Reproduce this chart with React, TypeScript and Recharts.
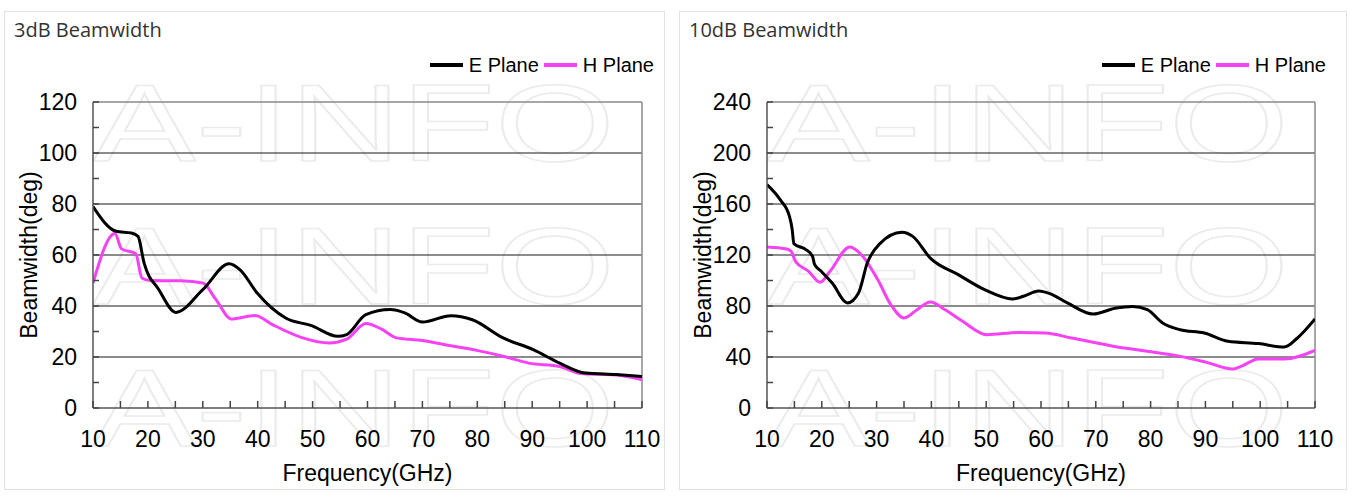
import React from 'react';
import { LineChart, Line, XAxis, YAxis, ReferenceLine, Label } from 'recharts';

// shared axis / legend data
const freqTicks = [10, 15, 20, 25, 30, 35, 40, 45, 50, 55, 60, 65, 70, 75, 80, 85, 90, 95, 100, 105, 110];
const seriesNames = ['E Plane', 'H Plane'];
const seriesColors = ['#000000', '#f442f4'];

// 3dB beamwidth
const e3Freq = [10, 14.2, 17, 18.2, 19.3, 22, 25.1, 30, 34.8, 36.8, 39.9, 45.1, 49.8, 54.6, 56.2, 59.7, 64.1, 66.8, 70, 75.2, 79.1, 84.7, 90.2, 95, 99.7, 105.3, 110];
const e3Val = [79, 69.3, 68.6, 67.3, 56.9, 46.4, 37.5, 46.4, 56.6, 54.2, 45.1, 35.3, 32.3, 28.1, 28.8, 36.6, 38.6, 37.3, 33.7, 36.2, 34.6, 27.5, 22.9, 17.6, 13.7, 13.1, 12.4];
const h3Freq = [10, 14, 15.2, 17.8, 18.9, 20.5, 26, 30, 32.4, 35.2, 39.5, 42.7, 48.2, 53, 56.2, 59.7, 62.5, 65.3, 70, 75.2, 79.9, 84.7, 89.4, 95, 98.9, 105.3, 110];
const h3Val = [49, 68.4, 62.4, 60.5, 51, 50, 49.9, 49, 42.5, 34.9, 36.3, 32.7, 27.5, 25.5, 27, 33.1, 31, 27.5, 26.5, 24.4, 22.6, 20.3, 17.6, 16.3, 13.5, 12.9, 11.1];
const yTicks3 = [0, 10, 20, 30, 40, 50, 60, 70, 80, 90, 100, 110, 120];
const grid3 = [20, 40, 60, 80, 100];

// 10dB beamwidth
const e10Freq = [10, 12.4, 14.1, 14.6, 14.9, 17.1, 18.3, 18.7, 19.9, 21.9, 24.7, 26.7, 28.3, 30.6, 34.6, 36.6, 39.8, 44.9, 49.7, 54.8, 56.8, 59.6, 61.6, 64.8, 69.5, 73.5, 76.7, 79.4, 82.2, 85.4, 89.8, 94.1, 99.7, 104.4, 106.8, 110];
const e10Val = [175.2, 163.4, 150.3, 139.9, 128.9, 124.2, 119, 112.4, 107.2, 98, 82.4, 90.2, 113.7, 128.9, 137.8, 134.6, 117.6, 104.6, 92.8, 85.5, 87.6, 91.8, 89.7, 82.4, 73.7, 78.2, 79.7, 77.1, 66.7, 61.4, 58.8, 52.3, 50.5, 47.8, 54.9, 69.8];
const h10Freq = [10, 13.6, 14.4, 15.2, 17.6, 19.7, 21.5, 25.1, 27.5, 30.2, 32.6, 35, 37.4, 39.8, 42.5, 45.7, 50.1, 56, 60.8, 65.6, 72.7, 80.6, 85.4, 90.2, 95, 96.5, 99.7, 104.4, 110];
const h10Val = [126.3, 124.7, 122.9, 115, 107.2, 98.6, 107.2, 126.3, 118.9, 100.7, 81, 70.6, 77.1, 83.1, 77.1, 68, 57.5, 59.3, 58.8, 54.9, 48.9, 43.7, 40.5, 35.8, 30.6, 32.7, 38.4, 38.4, 45.2];
const yTicks10 = [0, 20, 40, 60, 80, 100, 120, 140, 160, 180, 200, 220, 240];
const grid10 = [40, 80, 120, 160, 200];

const toPoints = (f: number[], v: number[]) => f.map((x, i) => ({ f: x, v: v[i] }));

const AX_FONT = "Arial, 'Liberation Sans', sans-serif";

const XTick = ({ x, y, payload }: any) => (
  <g>
    <line x1={x} x2={x} y1={y} y2={y - 7} stroke="#444" strokeWidth={1.5} />
    {payload.value % 10 === 0 && (
      <text x={x} y={y + 39} textAnchor="middle" fontSize={23} fill="#000" fontFamily={AX_FONT}>
        {payload.value}
      </text>
    )}
  </g>
);

const makeYTick = (labelStep: number) => ({ x, y, payload }: any) => (
  <g>
    <line x1={x} x2={x + 6} y1={y} y2={y} stroke="#444" strokeWidth={1.5} />
    {payload.value % labelStep === 0 && (
      <text x={x - 16} y={y + 8} textAnchor="end" fontSize={23} fill="#000" fontFamily={AX_FONT}>
        {payload.value}
      </text>
    )}
  </g>
);

const xTitle = ({ viewBox }: any) => (
  <text
    x={viewBox.x + viewBox.width / 2}
    y={viewBox.y + 73}
    textAnchor="middle"
    fontSize={23}
    fill="#000"
    fontFamily={AX_FONT}
  >
    Frequency(GHz)
  </text>
);

const yTitle = ({ viewBox }: any) => {
  const cx = viewBox.x + viewBox.width - 64;
  const cy = viewBox.y + viewBox.height / 2;
  return (
    <text
      x={cx}
      y={cy}
      transform={`rotate(-90 ${cx} ${cy})`}
      textAnchor="middle"
      dominantBaseline="central"
      fontSize={23}
      fill="#000"
      fontFamily={AX_FONT}
    >
      Beamwidth(deg)
    </text>
  );
};

const watermarkTops = [57, 200, 342];

interface PanelProps {
  title: string;
  left: number;
  width: number;
  plotLeft: number;
  plotWidth: number;
  legendRight: number;
  yMax: number;
  yTicks: number[];
  grid: number[];
  labelStep: number;
  eData: { f: number; v: number }[];
  hData: { f: number; v: number }[];
}

const PANEL_TOP = 11;
const PANEL_H = 479;
const CHART_H = 492;
const PLOT_TOP = 91;
const PLOT_H = 306;

function Panel(p: PanelProps) {
  const YTick = makeYTick(p.labelStep);
  return (
    <div
      style={{
        position: 'absolute',
        left: p.left,
        top: PANEL_TOP,
        width: p.width,
        height: PANEL_H,
        boxSizing: 'border-box',
        border: '1px solid #e2e2e2',
        background: '#fff',
      }}
    >
      {watermarkTops.map((t) => (
        <div
          key={t}
          style={{
            position: 'absolute',
            left: p.plotLeft - 1,
            top: t - 1,
            fontFamily: AX_FONT,
            fontSize: 110,
            lineHeight: 1,
            color: 'transparent',
            WebkitTextStroke: '1.5px #ebebeb',
            whiteSpace: 'nowrap',
            transform: 'scaleX(1.4)',
            transformOrigin: 'left top',
            pointerEvents: 'none',
          }}
        >
          A-INFO
        </div>
      ))}
      <div
        style={{
          position: 'absolute',
          left: 9,
          top: 8,
          fontFamily: "'Open Sans', 'Noto Sans', sans-serif",
          fontSize: 20,
          lineHeight: 1,
          color: '#333',
          whiteSpace: 'nowrap',
        }}
      >
        {p.title}
      </div>
      <div
        style={{
          position: 'absolute',
          right: p.legendRight,
          top: 42,
          height: 22,
          display: 'flex',
          alignItems: 'center',
          fontFamily: AX_FONT,
          fontSize: 20,
          color: '#000',
          whiteSpace: 'nowrap',
        }}
      >
        {seriesNames.map((n, i) => (
          <React.Fragment key={n}>
            <span
              style={{
                display: 'inline-block',
                width: 33,
                height: 3.5,
                background: seriesColors[i],
                marginLeft: i ? 5 : 0,
                marginRight: 6,
              }}
            />
            <span>{n}</span>
          </React.Fragment>
        ))}
      </div>
      <div style={{ position: 'absolute', left: -1, top: -1 }}>
        <LineChart
          width={p.width}
          height={CHART_H}
          margin={{ top: PLOT_TOP, right: p.width - p.plotLeft - p.plotWidth, left: 0, bottom: 0 }}
        >
          <XAxis
            type="number"
            dataKey="f"
            domain={[10, 110]}
            ticks={freqTicks}
            interval={0}
            tickSize={0}
            tickMargin={0}
            tickLine={false}
            tick={<XTick />}
            axisLine={{ stroke: '#555', strokeWidth: 1.5 }}
            height={CHART_H - PLOT_TOP - PLOT_H}
            allowDataOverflow
          >
            <Label content={xTitle} />
          </XAxis>
          <YAxis
            type="number"
            domain={[0, p.yMax]}
            ticks={p.yTicks}
            interval={0}
            tickSize={0}
            tickMargin={0}
            tickLine={false}
            tick={<YTick />}
            axisLine={{ stroke: '#555', strokeWidth: 1.5 }}
            width={p.plotLeft}
            allowDataOverflow
          >
            <Label content={yTitle} />
          </YAxis>
          {p.grid.map((g) => (
            <ReferenceLine key={g} y={g} stroke="#1a1a1a" strokeWidth={1.2} />
          ))}
          <ReferenceLine y={p.yMax} stroke="#8a8a8a" strokeWidth={1.5} />
          <ReferenceLine x={110} stroke="#8a8a8a" strokeWidth={1.5} />
          <Line
            data={p.hData}
            dataKey="v"
            name={seriesNames[1]}
            type="monotone"
            stroke={seriesColors[1]}
            strokeWidth={3}
            dot={false}
            isAnimationActive={false}
          />
          <Line
            data={p.eData}
            dataKey="v"
            name={seriesNames[0]}
            type="monotone"
            stroke={seriesColors[0]}
            strokeWidth={3}
            dot={false}
            isAnimationActive={false}
          />
        </LineChart>
      </div>
    </div>
  );
}

export default function App() {
  return (
    <div style={{ position: 'relative', width: 1357, height: 500, background: '#fff' }}>
      <style>{'body{margin:0;background:#fff}'}</style>
      <Panel
        title="3dB Beamwidth"
        left={4}
        width={661}
        plotLeft={89}
        plotWidth={549}
        legendRight={10}
        yMax={120}
        yTicks={yTicks3}
        grid={grid3}
        labelStep={20}
        eData={toPoints(e3Freq, e3Val)}
        hData={toPoints(h3Freq, h3Val)}
      />
      <Panel
        title="10dB Beamwidth"
        left={679}
        width={668}
        plotLeft={88}
        plotWidth={548}
        legendRight={20}
        yMax={240}
        yTicks={yTicks10}
        grid={grid10}
        labelStep={40}
        eData={toPoints(e10Freq, e10Val)}
        hData={toPoints(h10Freq, h10Val)}
      />
    </div>
  );
}
